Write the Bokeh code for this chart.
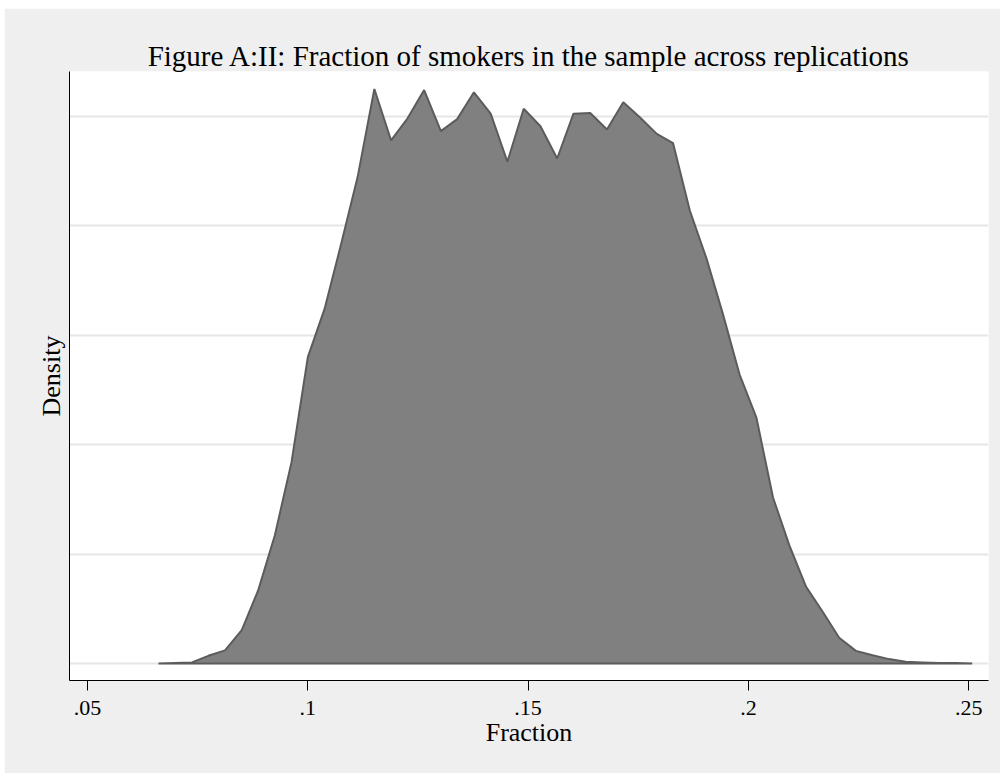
from bokeh.plotting import figure
from bokeh.models import Range1d, FixedTicker
from bokeh.embed import file_html
from bokeh.resources import INLINE

# Kernel density estimate (50 evaluation points)
fraction = [0.0661, 0.0699, 0.0737, 0.0774, 0.0812, 0.0850, 0.0887, 0.0925, 0.0963, 0.1000,
            0.1038, 0.1076, 0.1113, 0.1151, 0.1189, 0.1226, 0.1264, 0.1302, 0.1339, 0.1377,
            0.1415, 0.1453, 0.1490, 0.1528, 0.1566, 0.1603, 0.1641, 0.1679, 0.1716, 0.1754,
            0.1792, 0.1829, 0.1867, 0.1905, 0.1942, 0.1980, 0.2018, 0.2056, 0.2093, 0.2131,
            0.2169, 0.2206, 0.2244, 0.2282, 0.2319, 0.2357, 0.2395, 0.2432, 0.2470, 0.2508]
density = [0.00, 0.01, 0.02, 0.14, 0.24, 0.61, 1.33, 2.34, 3.68, 5.60,
           6.48, 7.68, 8.89, 10.50, 9.56, 9.96, 10.48, 9.73, 9.95, 10.44,
           10.05, 9.17, 10.14, 9.82, 9.23, 10.05, 10.06, 9.76, 10.26, 9.98,
           9.68, 9.51, 8.28, 7.40, 6.39, 5.28, 4.50, 3.03, 2.16, 1.40,
           0.94, 0.47, 0.23, 0.15, 0.08, 0.03, 0.02, 0.01, 0.01, 0.00]

x_ticks = [0.05, 0.10, 0.15, 0.20, 0.25]
x_tick_labels = [".05", ".1", ".15", ".2", ".25"]
y_grid = [0, 2, 4, 6, 8, 10]

title_text = "Figure A:II: Fraction of smokers in the sample across replications"
x_label = "Fraction"
y_label = "Density"

SERIF = "Liberation Serif"

p = figure(width=996, height=765,
           x_range=Range1d(0.0459, 0.2545), y_range=Range1d(-0.311, 10.82),
           output_backend="svg", toolbar_location=None,
           min_border_left=65, min_border_right=12, min_border_top=63, min_border_bottom=93)
p.margin = (8, 3, 0, 4)

p.background_fill_color = "white"
p.border_fill_color = "#efefef"
p.outline_line_color = None

# title
p.title.text = title_text
p.title.align = "center"
p.title.text_font = SERIF
p.title.text_font_size = "29px"
p.title.text_font_style = "normal"
p.title.text_color = "black"
p.title.standoff = 0

# grid
p.xgrid.grid_line_color = None
p.ygrid.ticker = FixedTicker(ticks=y_grid)
p.ygrid.grid_line_color = "#e6e6e6"
p.ygrid.grid_line_width = 2

# x axis
xa = p.xaxis[0]
xa.ticker = FixedTicker(ticks=x_ticks)
xa.major_label_overrides = {t: l for t, l in zip(x_ticks, x_tick_labels)}
xa.minor_tick_line_color = None
xa.major_tick_in = 0
xa.major_tick_out = 10
xa.major_tick_line_color = "black"
xa.axis_line_color = "black"
xa.major_label_text_font = SERIF
xa.major_label_text_font_size = "22px"
xa.major_label_text_color = "black"
xa.major_label_standoff = 10
xa.axis_label = x_label
xa.axis_label_text_font = SERIF
xa.axis_label_text_font_size = "26px"
xa.axis_label_text_font_style = "normal"
xa.axis_label_text_color = "black"
xa.axis_label_standoff = 0

# y axis
ya = p.yaxis[0]
ya.ticker = FixedTicker(ticks=[])
ya.minor_tick_line_color = None
ya.major_tick_in = 0
ya.major_tick_out = 0
ya.major_label_standoff = 0
ya.axis_line_color = "black"
ya.axis_label = y_label
ya.axis_label_text_font = SERIF
ya.axis_label_text_font_size = "26px"
ya.axis_label_text_font_style = "normal"
ya.axis_label_text_color = "black"
ya.axis_label_standoff = 4

# filled density area with outline (closed along the zero baseline)
px = fraction + fraction[::-1]
py = density + [0.0] * len(density)
p.patch(px, py, fill_color="#808080", line_color="#5c5c5c", line_width=2)

open("out.html", "w").write(file_html(p, INLINE))
